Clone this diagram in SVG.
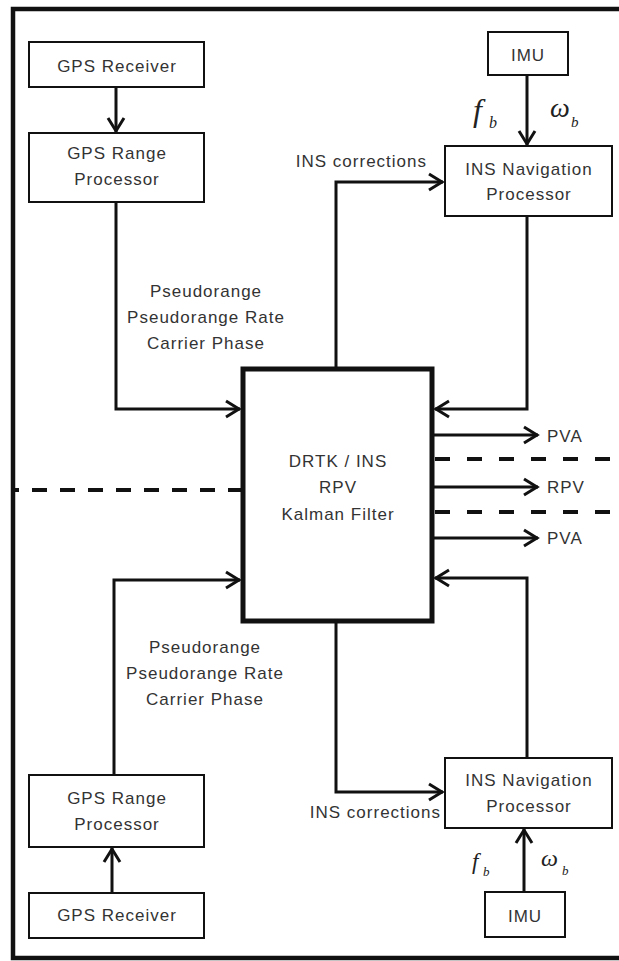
<svg xmlns="http://www.w3.org/2000/svg" width="619" height="961" viewBox="0 0 619 961">
<style>
.box{fill:#fff;stroke:#111;stroke-width:2}
.lbl{font-family:"Liberation Sans",Arial,sans-serif;font-size:17px;fill:#333;letter-spacing:1px}
.c{text-anchor:middle}
.e{text-anchor:end}
.con{fill:none;stroke:#111;stroke-width:3}
.dash{fill:none;stroke:#111;stroke-width:4}
.math{font-family:"Liberation Serif","Times New Roman",serif;font-style:italic;fill:#222}
</style>
<defs>
<marker id="arr" markerUnits="userSpaceOnUse" viewBox="-18 -11 20 22" refX="0" refY="0" markerWidth="20" markerHeight="22" orient="auto">
<path d="M-14,-8 L-1,0 L-14,8" fill="none" stroke="#111" stroke-width="3"/>
</marker>
</defs>
<rect width="619" height="961" fill="#fff"/>
<path d="M640 9 H13 V958 H640" fill="none" stroke="#111" stroke-width="4.5"/>

<g id="connectors">
<path class="con" d="M116 87 V132" marker-end="url(#arr)"/>
<path class="con" d="M116 202 V409 H240" marker-end="url(#arr)"/>
<path class="con" d="M336 368 V182 H443" marker-end="url(#arr)"/>
<path class="con" d="M527 75 V145" marker-end="url(#arr)"/>
<path class="con" d="M527 216 V409 H435" marker-end="url(#arr)"/>
<path class="con" d="M434 435 H538" marker-end="url(#arr)"/>
<path class="con" d="M434 487 H538" marker-end="url(#arr)"/>
<path class="con" d="M434 538 H538" marker-end="url(#arr)"/>
<path class="con" d="M114 775 V580 H240" marker-end="url(#arr)"/>
<path class="con" d="M336 623 V792 H443" marker-end="url(#arr)"/>
<path class="con" d="M527 758 V578 H435" marker-end="url(#arr)"/>
<path class="con" d="M524 892 V829" marker-end="url(#arr)"/>
<path class="con" d="M112 893 V848" marker-end="url(#arr)"/>
<path class="dash" d="M15 490 H241" stroke-dasharray="15 13" stroke-dashoffset="11"/>
<path class="dash" d="M435 459 H619" stroke-dasharray="15 17"/>
<path class="dash" d="M435 512 H619" stroke-dasharray="15 17"/>
</g>

<g id="gps-receiver-top">
<rect class="box" x="29" y="42" width="175" height="45"/>
<text class="lbl c" x="117" y="72">GPS Receiver</text>
</g>
<g id="gps-range-top">
<rect class="box" x="29" y="133" width="175" height="69"/>
<text class="lbl c" x="117" y="159">GPS Range</text>
<text class="lbl c" x="117" y="185">Processor</text>
</g>
<g id="label-pseudo-top">
<text class="lbl c" x="206" y="297">Pseudorange</text>
<text class="lbl c" x="206" y="323">Pseudorange Rate</text>
<text class="lbl c" x="206" y="349">Carrier Phase</text>
</g>
<g id="label-inscorr-top">
<text class="lbl e" x="427" y="167">INS corrections</text>
</g>
<g id="imu-top">
<rect class="box" x="488" y="32" width="80" height="43"/>
<text class="lbl c" x="528" y="61">IMU</text>
<text class="math" x="473" y="121" font-size="32">f</text>
<text class="math" x="489" y="128" font-size="16">b</text>
<text class="math" x="550" y="117" font-size="28">ω</text>
<text class="math" x="571" y="127" font-size="15">b</text>
</g>
<g id="ins-nav-top">
<rect class="box" x="445" y="146" width="167" height="70"/>
<text class="lbl c" x="529" y="175">INS Navigation</text>
<text class="lbl c" x="529" y="200">Processor</text>
</g>
<g id="kalman">
<rect x="243" y="369" width="189" height="252" fill="#fff" stroke="#111" stroke-width="5"/>
<text class="lbl c" x="338" y="467">DRTK / INS</text>
<text class="lbl c" x="338" y="493">RPV</text>
<text class="lbl c" x="338" y="520">Kalman Filter</text>
</g>
<g id="outputs">
<text class="lbl" x="547" y="442">PVA</text>
<text class="lbl" x="547" y="493">RPV</text>
<text class="lbl" x="547" y="544">PVA</text>
</g>
<g id="label-pseudo-bottom">
<text class="lbl c" x="205" y="653">Pseudorange</text>
<text class="lbl c" x="205" y="679">Pseudorange Rate</text>
<text class="lbl c" x="205" y="705">Carrier Phase</text>
</g>
<g id="gps-range-bottom">
<rect class="box" x="29" y="775" width="175" height="72"/>
<text class="lbl c" x="117" y="804">GPS Range</text>
<text class="lbl c" x="117" y="830">Processor</text>
</g>
<g id="gps-receiver-bottom">
<rect class="box" x="29" y="893" width="175" height="45"/>
<text class="lbl c" x="117" y="921">GPS Receiver</text>
</g>
<g id="label-inscorr-bottom">
<text class="lbl e" x="441" y="818">INS corrections</text>
</g>
<g id="ins-nav-bottom">
<rect class="box" x="445" y="758" width="167" height="70"/>
<text class="lbl c" x="529" y="786">INS Navigation</text>
<text class="lbl c" x="529" y="812">Processor</text>
</g>
<g id="imu-bottom">
<rect class="box" x="485" y="892" width="80" height="45"/>
<text class="lbl c" x="525" y="922">IMU</text>
<text class="math" x="472" y="869" font-size="23">f</text>
<text class="math" x="483" y="876" font-size="13">b</text>
<text class="math" x="541" y="866" font-size="24">ω</text>
<text class="math" x="562" y="875" font-size="13">b</text>
</g>
</svg>
